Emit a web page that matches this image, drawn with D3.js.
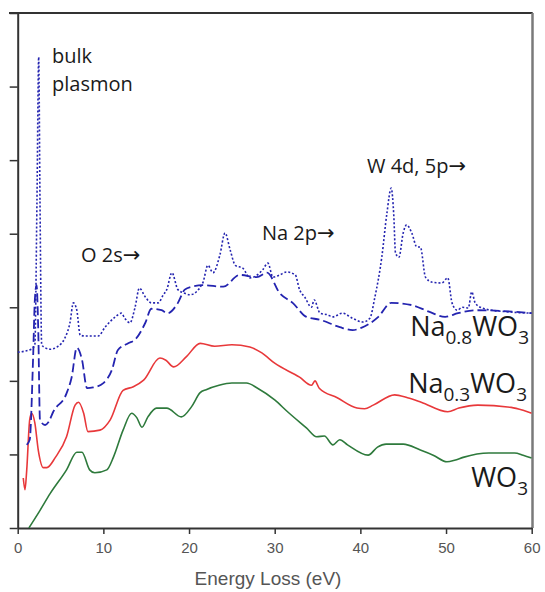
<!DOCTYPE html>
<html><head><meta charset="utf-8">
<script src="https://cdn.jsdelivr.net/npm/d3@7"></script>
<style>
html,body{margin:0;padding:0;background:#fff;}
svg{display:block;}
</style></head>
<body><svg id="chart" width="545" height="592"></svg>
<script>
// ---- data (Energy loss in eV, intensity in arbitrary units) ----
const xTicks = [0, 10, 20, 30, 40, 50, 60];
const yTicks = [0, 1, 2, 3, 4, 5, 6, 7];

const wo3 = [[1.3,0],[2.5,0.22],[3.8,0.47],[5.7,0.79],[6.9,1.03],[7.5,1.03],[8.4,0.79],[9.0,0.75],[10.4,0.79],[11.2,0.97],[12.3,1.33],[13.3,1.56],[13.9,1.50],[14.5,1.37],[15.2,1.51],[16.2,1.63],[17.4,1.63],[19.1,1.51],[20.3,1.65],[21.3,1.84],[22,1.88],[23.5,1.94],[25,1.97],[26.7,1.97],[28,1.90],[30,1.74],[31.5,1.58],[33.7,1.36],[34.9,1.24],[35.8,1.25],[36.8,1.13],[37.6,1.20],[38.5,1.13],[40.9,0.99],[42,1.10],[43,1.14],[45,1.14],[47,1.06],[48.5,0.99],[50.1,0.90],[51,0.92],[52,0.96],[55,1.02],[58,1.02],[59,0.99],[60,0.95]];

const na03 = [[0.65,0.68],[0.85,0.52],[1.05,0.78],[1.4,1.47],[1.63,1.56],[2.0,1.43],[2.4,1.06],[3.0,0.82],[3.4,0.82],[4.4,0.96],[5.7,1.24],[6.7,1.67],[7.1,1.71],[7.7,1.56],[8.2,1.31],[9.6,1.33],[10.8,1.47],[12.3,1.87],[13.5,1.92],[14.7,2.01],[16.6,2.31],[17.3,2.28],[18.2,2.19],[19.7,2.33],[21.3,2.51],[23,2.47],[25,2.49],[27.1,2.46],[28.5,2.38],[30,2.24],[32.9,2.05],[34.3,1.94],[34.7,2.0],[35.2,1.9],[37.3,1.77],[39.6,1.63],[40.5,1.62],[41.5,1.67],[44,1.81],[45.5,1.77],[47.1,1.71],[50.2,1.58],[51.5,1.63],[53.7,1.67],[57.6,1.64],[59,1.60],[60,1.56]];

const na08Dash = [[1.05,1.13],[1.4,1.20],[1.8,2.32],[2.0,3.10],[2.2,3.30],[2.4,2.69],[2.6,1.47],[3.2,1.40],[3.6,1.44],[4.15,1.58],[5.7,1.83],[6.3,2.05],[6.9,2.45],[7.5,2.29],[8.1,1.90],[8.8,1.91],[10.0,1.97],[11.0,2.15],[11.7,2.42],[12.9,2.51],[13.7,2.56],[14.9,2.79],[15.6,2.98],[16.8,2.96],[17.5,2.92],[18.7,3.06],[19.5,3.24],[20.3,3.28],[21.6,3.30],[24,3.28],[25.9,3.44],[27.9,3.41],[29.1,3.47],[30.6,3.19],[32.1,3.06],[33.7,2.87],[35.3,2.83],[37.6,2.73],[39.1,2.69],[40.1,2.72],[42.1,2.87],[43.6,3.06],[46,3.03],[48,2.94],[49.9,2.87],[51.4,2.92],[53.7,2.96],[60,2.92]];

const na08Dot = [[0,2.39],[1.6,2.43],[2.0,2.49],[2.25,4.46],[2.45,6.40],[2.6,4.46],[2.8,2.49],[3.2,2.45],[3.8,2.43],[4.7,2.47],[5.5,2.58],[6.1,2.79],[6.5,3.06],[6.9,2.96],[7.3,2.62],[7.9,2.61],[9.4,2.61],[10.2,2.73],[11.4,2.87],[12.1,2.92],[12.5,2.85],[13.1,2.79],[13.7,3.00],[14.2,3.26],[14.9,3.14],[15.6,3.06],[16.4,3.06],[17.0,3.17],[17.4,3.24],[18.0,3.47],[18.7,3.24],[19.5,3.19],[20.1,3.17],[21.6,3.33],[22.2,3.57],[22.8,3.47],[23.6,3.71],[24.2,4.01],[24.8,3.78],[25.4,3.57],[26.3,3.53],[27.1,3.40],[28.6,3.51],[29.2,3.60],[29.8,3.41],[30.6,3.44],[31.4,3.48],[32.4,3.44],[32.9,3.24],[33.5,3.14],[34.3,3.00],[34.6,3.10],[35.3,2.92],[36.1,2.90],[36.8,2.87],[37.9,2.92],[39.1,2.85],[40.3,2.80],[41.1,2.85],[41.7,3.14],[42.5,3.68],[43.1,4.28],[43.6,4.62],[43.9,4.25],[44.1,3.74],[44.5,3.68],[45.0,4.01],[45.4,4.12],[46.0,4.01],[46.6,3.82],[47.0,3.82],[47.6,3.41],[48.4,3.34],[49.5,3.33],[50.2,3.40],[50.7,3.06],[51.3,2.96],[51.9,3.00],[52.6,2.99],[53.0,3.21],[53.4,3.06],[54.2,2.99],[55.4,2.96],[57,2.94],[60,2.92]];

const seriesLabels = [
  {main1: "Na", sub1: "0.8", main2: "WO", sub2: "3"},
  {main1: "Na", sub1: "0.3", main2: "WO", sub2: "3"},
  {main1: "", sub1: "", main2: "WO", sub2: "3"}
];
const annotations = ["bulk", "plasmon", "O 2s", "Na 2p", "W 4d, 5p"];
const annArrow = [false, false, true, true, true];
const xTitle = "Energy Loss (eV)";

// ---- layout ----
const svg = d3.select("#chart");
svg.append("rect").attr("width", 545).attr("height", 592).attr("fill", "#fff");

const x = d3.scaleLinear().domain([0, 60]).range([17.7, 531.7]);
const y = d3.scaleLinear().domain([0, 7]).range([528, 13]);

svg.append("defs").append("clipPath").attr("id", "clip")
  .append("rect").attr("x", x(0)).attr("y", y(7)).attr("width", x(60) - x(0)).attr("height", y(0) - y(7));

// frame: top & right
svg.append("line").attr("x1", 9).attr("x2", x(60) + 1).attr("y1", y(7)).attr("y2", y(7))
  .attr("stroke", "#333").attr("stroke-width", 2);
svg.append("line").attr("x1", x(60) + 0.8).attr("x2", x(60) + 0.8).attr("y1", y(7)).attr("y2", y(0))
  .attr("stroke", "#7a7a7a").attr("stroke-width", 2.5);

// x axis
const xAxis = svg.append("g").attr("transform", `translate(0,${y(0)})`)
  .call(d3.axisBottom(x).tickValues(xTicks).tickSize(6).tickSizeOuter(0).tickPadding(8));
xAxis.select(".domain").attr("stroke", "#333").attr("stroke-width", 2);
xAxis.selectAll(".tick line").attr("stroke", "#333").attr("stroke-width", 1.5);
xAxis.selectAll(".tick text").attr("fill", "#555").attr("font-family", "Liberation Sans, Arial, sans-serif").attr("font-size", 15);

// y axis (ticks only)
const yAxis = svg.append("g").attr("transform", `translate(${x(0)},0)`)
  .call(d3.axisLeft(y).tickValues(yTicks).tickSize(8).tickSizeOuter(0).tickFormat(""));
yAxis.select(".domain").attr("stroke", "#333").attr("stroke-width", 2);
yAxis.selectAll(".tick line").attr("stroke", "#333").attr("stroke-width", 1.5);

svg.append("text").attr("x", 268).attr("y", 585).attr("text-anchor", "middle")
  .attr("font-family", "Liberation Sans, Arial, sans-serif").attr("font-size", 19).attr("fill", "#555")
  .text(xTitle);

// ---- lines ----
const line = d3.line().x(d => x(d[0])).y(d => y(d[1])).curve(d3.curveMonotoneX);
const plot = svg.append("g").attr("clip-path", "url(#clip)");
plot.append("path").datum(wo3).attr("d", line).attr("fill", "none").attr("stroke", "#2e7a3c").attr("stroke-width", 1.6);
plot.append("path").datum(na03).attr("d", line).attr("fill", "none").attr("stroke", "#e8383a").attr("stroke-width", 1.6);
plot.append("path").datum(na08Dash).attr("d", line).attr("fill", "none").attr("stroke", "#2424b0").attr("stroke-width", 1.8).attr("stroke-dasharray", "9,4");
plot.append("path").datum(na08Dot).attr("d", line).attr("fill", "none").attr("stroke", "#2424b0").attr("stroke-width", 1.6).attr("stroke-dasharray", "2,2");

// ---- annotations ----
const annFont = "Open Sans, sans-serif";
const annPos = [[52, 63], [52, 91], [81, 262], [262, 240], [367, 173]];
annotations.forEach((t, i) => {
  const tx = svg.append("text").attr("x", annPos[i][0]).attr("y", annPos[i][1])
    .attr("font-family", annFont).attr("font-size", 20).attr("fill", "#1a1a1a");
  tx.append("tspan").text(t);
  if (annArrow[i]) {
    tx.append("tspan").attr("font-family", "DejaVu Sans, sans-serif").attr("font-size", 21).text("→");
  }
});

// ---- series labels ----
const labPos = [[529, 336], [527, 393], [528, 487]];
seriesLabels.forEach((l, i) => {
  const t = svg.append("text").attr("x", labPos[i][0]).attr("y", labPos[i][1]).attr("text-anchor", "end")
    .attr("font-family", annFont).attr("font-size", 27).attr("fill", "#1a1a1a");
  if (l.main1) {
    t.append("tspan").text(l.main1);
    t.append("tspan").attr("font-size", 19).attr("dy", 8).text(l.sub1);
    t.append("tspan").attr("dy", -8).text(l.main2);
  } else {
    t.append("tspan").text(l.main2);
  }
  t.append("tspan").attr("font-size", 19).attr("dy", 8).text(l.sub2);
});
</script></body></html>
